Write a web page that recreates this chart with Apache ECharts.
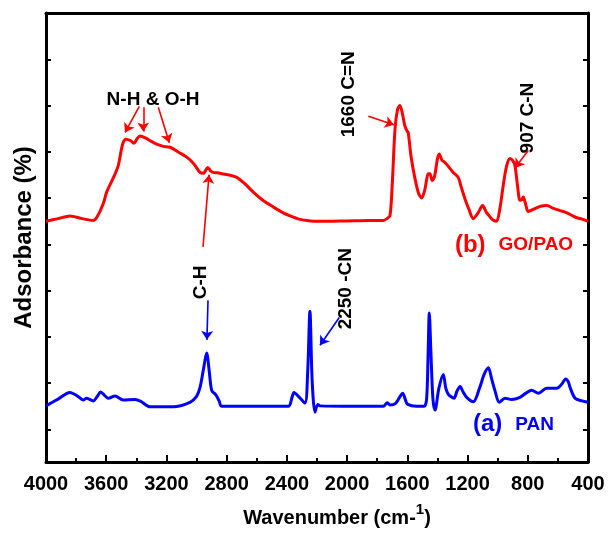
<!DOCTYPE html>
<html>
<head>
<meta charset="utf-8">
<script src="https://cdn.jsdelivr.net/npm/echarts@6/dist/echarts.min.js"></script>
<style>
  html, body { margin: 0; padding: 0; background: #ffffff; }
  #chart { width: 610px; height: 533px; }
</style>
</head>
<body>
<div id="chart"></div>
<script>
// FTIR spectra: wavenumber (cm-1) and absorbance in arbitrary offset units
const goPaoWavenumber = [4000, 3920, 3841, 3760, 3686, 3660, 3620, 3597, 3550, 3520, 3500, 3487, 3469, 3440, 3416, 3395, 3376, 3340, 3300, 3265, 3220, 3176, 3120, 3065, 3020, 2977, 2955, 2926, 2905, 2889, 2860, 2833, 2780, 2733, 2680, 2623, 2560, 2490, 2430, 2379, 2320, 2268, 2180, 2000, 1850, 1760, 1735, 1715, 1700, 1682, 1665, 1649, 1632, 1616, 1600, 1594, 1575, 1549, 1525, 1505, 1485, 1460, 1450, 1435, 1420, 1400, 1388, 1370, 1350, 1320, 1295, 1262, 1240, 1217, 1190, 1162, 1130, 1100, 1075, 1051, 1030, 1007, 985, 963, 940, 918, 900, 885, 868, 852, 840, 830, 815, 797, 760, 720, 675, 630, 586, 540, 500, 475, 440, 400];
const goPaoAbsorbance = [53.6, 54.2, 54.8, 54.2, 53.8, 54.6, 57.5, 60.1, 63.5, 66.0, 69.5, 71.2, 71.9, 71.6, 71.0, 72.0, 72.6, 72.2, 71.4, 70.8, 70.3, 70.1, 69.0, 67.9, 66.5, 64.5, 64.3, 65.6, 64.8, 64.5, 64.4, 64.2, 63.9, 63.4, 62.0, 60.1, 58.3, 56.8, 55.6, 54.8, 54.1, 53.8, 53.6, 53.7, 53.8, 53.8, 54.2, 54.9, 62.0, 74.1, 78.5, 79.4, 77.5, 74.8, 73.6, 73.4, 68.0, 63.1, 59.8, 58.8, 60.5, 64.2, 64.2, 62.7, 63.5, 67.5, 68.6, 67.2, 66.7, 65.5, 64.5, 63.4, 61.0, 58.6, 56.2, 54.2, 55.5, 57.1, 55.6, 54.6, 53.9, 53.6, 56.5, 61.6, 66.0, 67.6, 67.1, 66.0, 61.5, 58.3, 58.4, 59.0, 57.5, 55.8, 56.3, 56.9, 57.1, 56.5, 56.0, 55.5, 54.8, 54.4, 54.1, 53.6];

const panWavenumber = [4000, 3920, 3841, 3796, 3752, 3730, 3686, 3660, 3637, 3610, 3586, 3542, 3487, 3409, 3370, 3309, 3155, 3044, 3000, 2977, 2955, 2933, 2915, 2899, 2873, 2850, 2833, 2600, 2391, 2365, 2353, 2320, 2280, 2262, 2247, 2232, 2213, 2195, 2180, 1960, 1760, 1733, 1715, 1680, 1650, 1631, 1612, 1600, 1540, 1489, 1472, 1462, 1454, 1444, 1430, 1416, 1390, 1361, 1345, 1328, 1290, 1270, 1250, 1228, 1206, 1162, 1120, 1090, 1062, 1040, 1018, 989, 951, 907, 852, 810, 774, 730, 675, 608, 575, 548, 530, 519, 486, 440, 400];
const panAbsorbance = [12.5, 14.0, 15.5, 14.8, 13.8, 14.2, 13.6, 14.6, 15.6, 14.8, 14.2, 14.7, 13.8, 13.9, 13.5, 12.3, 12.3, 13.3, 14.6, 16.6, 20.5, 24.3, 20.0, 15.9, 15.0, 13.6, 12.4, 12.4, 12.4, 14.5, 15.5, 14.5, 13.1, 20.0, 33.6, 18.0, 11.1, 12.8, 12.5, 12.4, 12.4, 13.2, 12.7, 13.0, 14.5, 15.3, 13.8, 12.9, 12.4, 12.4, 14.0, 24.0, 33.2, 25.0, 14.0, 11.6, 16.5, 19.5, 16.5, 15.1, 14.2, 15.8, 16.8, 15.5, 14.4, 13.4, 16.5, 19.5, 21.0, 18.5, 15.9, 13.3, 14.2, 13.9, 14.4, 15.4, 16.0, 15.3, 16.4, 16.4, 17.3, 18.5, 17.8, 16.6, 14.2, 13.6, 13.3];

// axis tick labels along the wavenumber axis
const wavenumberTickLabels = ['4000', '3600', '3200', '2800', '2400', '2000', '1600', '1200', '800', '400'];

// band assignments: arrows [from, to] in (wavenumber, absorbance)
const goPaoArrows = [
  [[3380, 79.2], [3475, 73.4]],
  [[3354, 79.0], [3354, 73.6]],
  [[3254, 79.0], [3181, 71.1]],
  [[2957, 47.9], [2917, 64.0]],
  [[1859, 77.0], [1689, 75.1]],
  [[797, 69.4], [885, 65.5]]
];
const panArrows = [
  [[2924, 36.0], [2931, 27.2]],
  [[2052, 32.2], [2180, 26.0]]
];
const bandLabels = [
  { text: 'N-H & O-H', at: [3289, 80.6], vertical: false },
  { text: 'C-H', at: [2971, 40.0], vertical: true },
  { text: '2250 -CN', at: [2007, 38.6], vertical: true },
  { text: '1660 C=N', at: [1988, 81.9], vertical: true },
  { text: '907 C-N', at: [799, 76.6], vertical: true }
];
const seriesLabels = [
  { tag: '(b)', name: 'GO/PAO', at: [1284, 48.3], color: '#ff0000' },
  { tag: '(a)', name: 'PAN', at: [1164, 8.4], color: '#0000ff' }
];

const FONT = '"Liberation Sans", Arial, Helvetica, sans-serif';
const RED = '#ff0000';
const BLUE = '#0000ff';

const zip = (xs, ys) => xs.map((x, i) => [x, ys[i]]);

const arrowLines = (list) => list.map(([a, b]) => [{ coord: a }, { coord: b }]);

const chart = echarts.init(document.getElementById('chart'), null, { renderer: 'canvas' });

const tickAxis = (position, withName) => ({
  type: 'value',
  position: position,
  inverse: true,
  min: 0,
  max: 9.707,
  interval: 1,
  axisLine: { show: true, onZero: false, lineStyle: { color: '#000', width: 3 } },
  axisTick: { show: true, inside: true, length: 5, lineStyle: { color: '#000', width: 2 } },
  axisLabel: { show: false },
  splitLine: { show: false },
  name: withName ? 'Adsorbance (%)' : '',
  nameLocation: 'middle',
  nameGap: 10,
  nameRotate: 90,
  nameTextStyle: { fontFamily: FONT, fontWeight: 'bold', fontSize: 24, color: '#000' }
});

chart.setOption({
  animation: false,
  backgroundColor: '#ffffff',
  grid: { left: 46, right: 22, top: 13, bottom: 67 },
  xAxis: [
    {
      type: 'value',
      position: 'bottom',
      inverse: true,
      min: 400,
      max: 4000,
      interval: 400,
      axisLine: { show: true, onZero: false, lineStyle: { color: '#000', width: 3 } },
      axisTick: { show: true, inside: true, length: 7, lineStyle: { color: '#000', width: 2 } },
      minorTick: { show: true, splitNumber: 2, length: 4, lineStyle: { color: '#000', width: 2 } },
      axisLabel: {
        show: true,
        margin: 12,
        fontFamily: FONT,
        fontWeight: 'bold',
        fontSize: 20,
        color: '#000',
        showMinLabel: true,
        showMaxLabel: true,
        formatter: (v) => wavenumberTickLabels.includes(String(v)) ? String(v) : ''
      },
      splitLine: { show: false },
      name: '{t|Wavenumber (cm-}{s|1}{t|)}',
      nameLocation: 'middle',
      nameGap: 40,
      nameTextStyle: {
        padding: [0, 0, 0, 40],
        rich: {
          t: { fontFamily: FONT, fontWeight: 'bold', fontSize: 20, color: '#000', lineHeight: 26, verticalAlign: 'bottom' },
          s: { fontFamily: FONT, fontWeight: 'bold', fontSize: 15, color: '#000', lineHeight: 26, verticalAlign: 'top' }
        }
      }
    },
    {
      type: 'value',
      position: 'top',
      inverse: true,
      min: 400,
      max: 4000,
      interval: 400,
      axisLine: { show: true, onZero: false, lineStyle: { color: '#000', width: 3 } },
      axisTick: { show: false },
      axisLabel: { show: false },
      splitLine: { show: false }
    }
  ],
  yAxis: [
    { type: 'value', min: 0, max: 100, show: false },
    tickAxis('left', true),
    tickAxis('right', false)
  ],
  series: [
    {
      name: 'GO/PAO',
      type: 'line',
      xAxisIndex: 0,
      yAxisIndex: 0,
      data: zip(goPaoWavenumber, goPaoAbsorbance),
      showSymbol: false,
      smooth: 0.3,
      lineStyle: { color: RED, width: 3 },
      silent: true,
      markLine: {
        silent: true,
        symbol: ['none', 'arrow'],
        symbolSize: 9,
        label: { show: false },
        lineStyle: { color: RED, width: 1.6, type: 'solid' },
        data: arrowLines(goPaoArrows)
      }
    },
    {
      name: 'PAN',
      type: 'line',
      xAxisIndex: 0,
      yAxisIndex: 0,
      data: zip(panWavenumber, panAbsorbance),
      showSymbol: false,
      smooth: 0.3,
      lineStyle: { color: BLUE, width: 3 },
      silent: true,
      markLine: {
        silent: true,
        symbol: ['none', 'arrow'],
        symbolSize: 9,
        label: { show: false },
        lineStyle: { color: BLUE, width: 1.6, type: 'solid' },
        data: arrowLines(panArrows)
      }
    }
  ]
});

// text annotations placed through the data coordinate system
const toPx = (p) => chart.convertToPixel({ xAxisIndex: 0, yAxisIndex: 0 }, p);
const graphics = [];
bandLabels.forEach((b) => {
  const [x, y] = toPx(b.at);
  graphics.push({
    type: 'text',
    x: x,
    y: y,
    rotation: b.vertical ? Math.PI / 2 : 0,
    silent: true,
    style: {
      text: b.text,
      fill: '#000',
      font: 'bold 19px ' + FONT,
      align: 'center',
      verticalAlign: 'middle'
    }
  });
});
seriesLabels.forEach((s) => {
  const [x, y] = toPx(s.at);
  graphics.push({
    type: 'text',
    x: x,
    y: y,
    silent: true,
    style: {
      text: '{a|' + s.tag + '}{b|' + s.name + '}',
      align: 'left',
      verticalAlign: 'middle',
      rich: {
        a: { fill: s.color, fontFamily: FONT, fontWeight: 'bold', fontSize: 24, padding: [0, 13, 0, 0] },
        b: { fill: s.color, fontFamily: FONT, fontWeight: 'bold', fontSize: 19 }
      }
    }
  });
});
chart.setOption({ graphic: graphics });
</script>
</body>
</html>
